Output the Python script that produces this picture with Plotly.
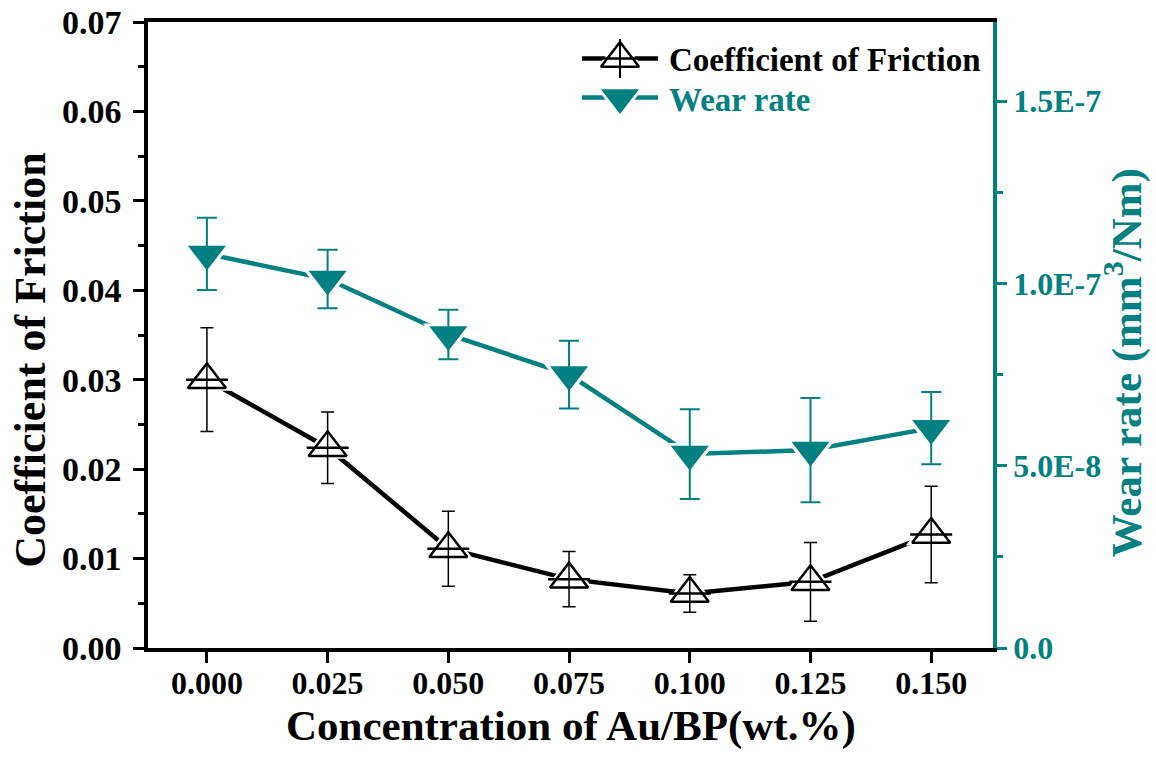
import plotly.graph_objects as go

# ---- data ----
concentration = [0.000, 0.025, 0.050, 0.075, 0.100, 0.125, 0.150]
cof = [0.0300, 0.0224, 0.0111, 0.0077, 0.0061, 0.0074, 0.0127]
cof_err = [0.0058, 0.0040, 0.0042, 0.0031, 0.0021, 0.0044, 0.0054]
wear = [1.081e-7, 1.012e-7, 8.60e-8, 7.50e-8, 5.32e-8, 5.43e-8, 6.03e-8]
wear_err = [0.99e-8, 0.80e-8, 0.68e-8, 0.93e-8, 1.23e-8, 1.43e-8, 0.99e-8]

x_ticks = [0.000, 0.025, 0.050, 0.075, 0.100, 0.125, 0.150]
x_ticktext = ["0.000", "0.025", "0.050", "0.075", "0.100", "0.125", "0.150"]
y2_ticks = [0.0, 5.0e-8, 1.0e-7, 1.5e-7]
y2_ticktext = ["0.0", "5.0E-8", "1.0E-7", "1.5E-7"]

series_names = ["Coefficient of Friction", "Wear rate"]

# legend key layout (pixel units on a hidden overlay axis)
legend_key_x = [582, 620, 658]
legend_row_y = [58.5, 97.5]
legend_text_x = 667

TEAL = "#008080"
FONT = "Liberation Serif"

fig = go.Figure()

# ---- Coefficient of friction (left axis) ----
fig.add_trace(go.Scatter(
    x=concentration, y=cof, mode="lines", showlegend=False,
    line=dict(color="black", width=4.5), yaxis="y"))
fig.add_trace(go.Scatter(
    x=concentration, y=cof, mode="markers", showlegend=False, hoverinfo="skip",
    marker=dict(symbol="triangle-up", size=44, color="white", line=dict(width=0)),
    yaxis="y"))
fig.add_trace(go.Scatter(
    x=concentration, y=cof, mode="markers", showlegend=False, name=series_names[0],
    marker=dict(symbol="triangle-up-open", size=33, color="black", line=dict(width=2.5, color="black")),
    error_y=dict(type="data", array=cof_err, visible=True, color="black", thickness=1.5, width=6.5),
    yaxis="y"))
fig.add_trace(go.Scatter(
    x=concentration, y=cof, mode="markers", showlegend=False, hoverinfo="skip",
    marker=dict(symbol="line-ew", size=30, color="black", line=dict(width=2.5, color="black")),
    yaxis="y"))

# ---- Wear rate (right axis) ----
fig.add_trace(go.Scatter(
    x=concentration, y=wear, mode="lines", showlegend=False,
    line=dict(color=TEAL, width=4.5), yaxis="y2"))
fig.add_trace(go.Scatter(
    x=concentration, y=wear, mode="markers", showlegend=False, hoverinfo="skip",
    marker=dict(symbol="triangle-down", size=44, color="white", line=dict(width=0)),
    yaxis="y2"))
fig.add_trace(go.Scatter(
    x=concentration, y=wear, mode="markers", showlegend=False, name=series_names[1],
    marker=dict(symbol="triangle-down", size=33, color=TEAL, line=dict(width=0)),
    error_y=dict(type="data", array=wear_err, visible=True, color=TEAL, thickness=2, width=10),
    yaxis="y2"))

# ---- custom legend keys (hidden overlay axes in pixel units) ----
ly0, ly1 = legend_row_y
fig.add_trace(go.Scatter(
    x=[legend_key_x[0], legend_key_x[2]], y=[ly0, ly0], mode="lines", showlegend=False,
    hoverinfo="skip", line=dict(color="black", width=4.5), xaxis="x2", yaxis="y3"))
fig.add_trace(go.Scatter(
    x=[legend_key_x[1]], y=[ly0], mode="markers", showlegend=False, hoverinfo="skip",
    marker=dict(symbol="triangle-up", size=42, color="white", line=dict(width=0)),
    xaxis="x2", yaxis="y3"))
fig.add_trace(go.Scatter(
    x=[legend_key_x[1]], y=[ly0], mode="markers", showlegend=False, hoverinfo="skip",
    marker=dict(symbol="triangle-up-open", size=33, color="black", line=dict(width=2.5, color="black")),
    error_y=dict(type="data", array=[19.5], visible=True, color="black", thickness=2, width=0),
    xaxis="x2", yaxis="y3"))
fig.add_trace(go.Scatter(
    x=[legend_key_x[1]], y=[ly0], mode="markers", showlegend=False, hoverinfo="skip",
    marker=dict(symbol="line-ew", size=26, color="black", line=dict(width=2.5, color="black")),
    xaxis="x2", yaxis="y3"))
fig.add_trace(go.Scatter(
    x=[legend_key_x[0], legend_key_x[2]], y=[ly1, ly1], mode="lines", showlegend=False,
    hoverinfo="skip", line=dict(color=TEAL, width=4.5), xaxis="x2", yaxis="y3"))
fig.add_trace(go.Scatter(
    x=[legend_key_x[1]], y=[ly1], mode="markers", showlegend=False, hoverinfo="skip",
    marker=dict(symbol="triangle-down", size=42, color="white", line=dict(width=0)),
    xaxis="x2", yaxis="y3"))
fig.add_trace(go.Scatter(
    x=[legend_key_x[1]], y=[ly1], mode="markers", showlegend=False, hoverinfo="skip",
    marker=dict(symbol="triangle-down", size=33, color=TEAL, line=dict(width=0)),
    xaxis="x2", yaxis="y3"))

fig.update_layout(
    width=1156, height=758,
    margin=dict(l=148, r=163, t=22, b=110),
    paper_bgcolor="white", plot_bgcolor="white",
    font=dict(family=FONT, size=32, color="black", weight="bold"),
    showlegend=False,
    xaxis=dict(
        range=[-0.0122, 0.1628], tickvals=x_ticks, ticktext=x_ticktext,
        showline=True, linecolor="black", linewidth=3.5, mirror=True,
        ticks="outside", ticklen=11, tickwidth=3, tickcolor="black",
        ticklabelstandoff=-7,
        showgrid=False, zeroline=False, automargin=False,
        tickfont=dict(family=FONT, size=32, color="black", weight="bold"),
    ),
    xaxis2=dict(range=[148, 993], overlaying="x", visible=False, automargin=False),
    yaxis=dict(
        range=[0, 0.07], dtick=0.01, tickformat=".2f",
        showline=True, linecolor="black", linewidth=3.5,
        ticks="outside", ticklen=11, tickwidth=3, tickcolor="black",
        ticklabelstandoff=5,
        minor=dict(dtick=0.005, ticks="outside", ticklen=6, tickwidth=3, tickcolor="black"),
        showgrid=False, zeroline=False, automargin=False,
        tickfont=dict(family=FONT, size=34, color="black", weight="bold"),
    ),
    yaxis2=dict(
        range=[0, 1.717e-7], overlaying="y", side="right",
        tickvals=y2_ticks, ticktext=y2_ticktext,
        showline=True, linecolor=TEAL, linewidth=3.5,
        ticks="outside", ticklen=10, tickwidth=3, tickcolor=TEAL,
        minor=dict(dtick=2.5e-8, ticks="outside", ticklen=6, tickwidth=3, tickcolor=TEAL),
        showgrid=False, zeroline=False, automargin=False,
        tickfont=dict(family=FONT, size=32, color=TEAL, weight="bold"),
    ),
    yaxis3=dict(range=[648, 22], overlaying="y", visible=False, automargin=False),
    annotations=[
        dict(text=series_names[0], xref="x2", yref="y3", x=legend_text_x, y=ly0 + 1,
             xanchor="left", yanchor="middle", showarrow=False,
             font=dict(family=FONT, size=33, color="black", weight="bold")),
        dict(text=series_names[1], xref="x2", yref="y3", x=legend_text_x, y=ly1 + 2,
             xanchor="left", yanchor="middle", showarrow=False,
             font=dict(family=FONT, size=33, color=TEAL, weight="bold")),
        dict(text="Concentration of Au/BP(wt.%)", xref="paper", yref="paper",
             x=0.5, y=(648 - 726) / 626, xanchor="center", yanchor="middle",
             showarrow=False, font=dict(family=FONT, size=43, color="black", weight="bold")),
        dict(text="Coefficient of Friction", xref="paper", yref="paper",
             x=-0.140, y=0.46, xanchor="center", yanchor="middle", textangle=-90,
             showarrow=False, font=dict(family=FONT, size=44, color="black", weight="bold")),
        dict(text="Wear rate (mm<sup>3</sup>/Nm)", xref="paper", yref="paper",
             x=1.154, y=0.455, xanchor="center", yanchor="middle", textangle=-90,
             showarrow=False, font=dict(family=FONT, size=43, color=TEAL, weight="bold")),
    ],
)

fig.write_html("out.html")
